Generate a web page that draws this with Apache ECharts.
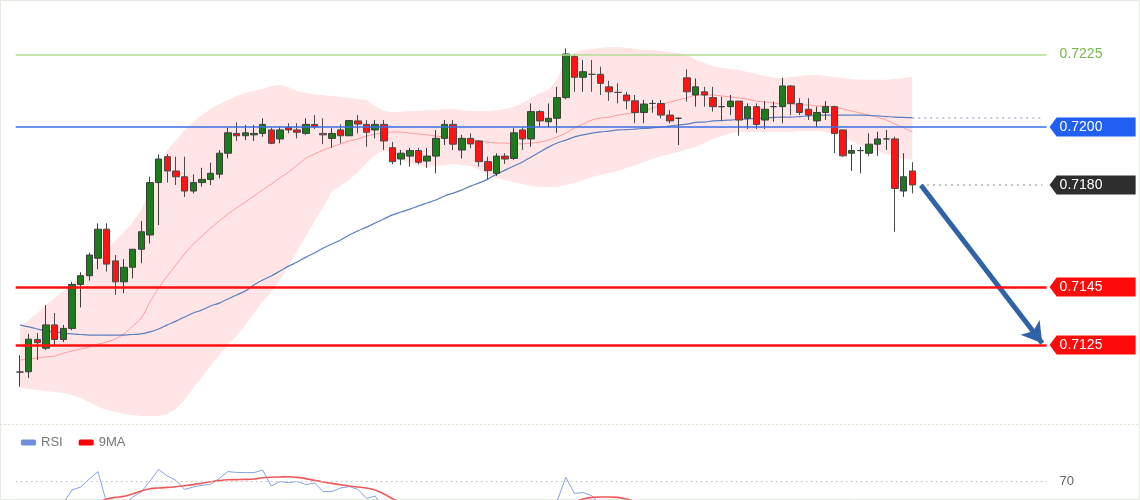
<!DOCTYPE html>
<html><head><meta charset="utf-8">
<script src="https://cdn.jsdelivr.net/npm/echarts@6/dist/echarts.min.js"></script>
<style>html,body{margin:0;padding:0;background:#fff}#c{width:1140px;height:500px}</style>
</head><body><div id="c"></div>
<script>
// ---- data ----
const totalSlots = 119; // 104 candles + empty space on the right
const categories = Array.from({length: totalSlots}, (_, i) => String(i));

const opens = [0.71158,0.71159,0.71270,0.71240,0.71320,0.71270,0.71308,0.71459,0.71489,0.71549,
0.71649,0.71540,0.71468,0.71518,0.71580,0.71629,0.71809,0.71898,0.71849,0.71829,
0.71780,0.71809,0.71820,0.71838,0.71910,0.71978,0.71970,0.71973,0.71978,0.71990,
0.71959,0.71998,0.71990,0.71978,0.72009,0.71978,0.71961,0.71990,0.71970,0.72021,
0.72009,0.71990,0.72009,0.71929,0.71890,0.71900,0.71919,0.71883,0.71900,0.71961,
0.72009,0.71921,0.71961,0.71952,0.71881,0.71841,0.71900,0.71892,0.71990,0.71959,
0.72053,0.72018,0.72030,0.72101,0.72242,0.72171,0.72181,0.72181,0.72138,0.72119,
0.72110,0.72090,0.72050,0.72081,0.72081,0.72041,0.72030,0.72169,0.72110,0.72121,
0.72101,0.72070,0.72070,0.72089,0.72030,0.72070,0.72024,0.72070,0.72070,0.72141,
0.72081,0.72061,0.72021,0.72050,0.72070,0.71990,0.71910,0.71919,0.71910,0.71941,
0.71959,0.71959,0.71780,0.71849];
const closes = [0.71158,0.71271,0.71259,0.71320,0.71270,0.71308,0.71459,0.71489,0.71560,0.71649,
0.71529,0.71468,0.71518,0.71580,0.71640,0.71809,0.71890,0.71849,0.71829,0.71780,
0.71809,0.71820,0.71841,0.71910,0.71980,0.71970,0.71980,0.71978,0.72009,0.71944,
0.71990,0.71990,0.71982,0.72009,0.72001,0.71973,0.71978,0.71970,0.72022,0.72010,
0.71982,0.72009,0.71952,0.71881,0.71910,0.71919,0.71879,0.71900,0.71961,0.72009,
0.71941,0.71961,0.71942,0.71881,0.71850,0.71900,0.71890,0.71980,0.71959,0.72053,
0.72021,0.72030,0.72101,0.72251,0.72171,0.72190,0.72181,0.72150,0.72121,0.72119,
0.72090,0.72050,0.72079,0.72081,0.72041,0.72021,0.72030,0.72121,0.72138,0.72110,
0.72070,0.72070,0.72089,0.72024,0.72070,0.72009,0.72061,0.72070,0.72141,0.72081,
0.72050,0.72041,0.72050,0.72070,0.71978,0.71901,0.71919,0.71919,0.71941,0.71959,
0.71959,0.71789,0.71829,0.71801];
const lows = [0.71108,0.71138,0.71199,0.71234,0.71251,0.71261,0.71302,0.71380,0.71472,0.71511,
0.71503,0.71423,0.71429,0.71480,0.71532,0.71600,0.71663,0.71809,0.71801,0.71760,
0.71772,0.71795,0.71801,0.71824,0.71892,0.71952,0.71955,0.71952,0.71967,0.71941,
0.71944,0.71978,0.71961,0.71973,0.71993,0.71941,0.71929,0.71944,0.71969,0.71978,
0.71932,0.71961,0.71921,0.71872,0.71869,0.71864,0.71872,0.71860,0.71841,0.71938,
0.71921,0.71892,0.71927,0.71864,0.71820,0.71832,0.71873,0.71887,0.71921,0.71932,
0.72001,0.71999,0.71980,0.72095,0.72121,0.72121,0.72121,0.72110,0.72090,0.72081,
0.72061,0.72013,0.72013,0.72049,0.72030,0.72013,0.71938,0.72087,0.72070,0.72070,
0.72053,0.72021,0.72041,0.71970,0.71993,0.71993,0.71993,0.72018,0.72013,0.72041,
0.72041,0.72024,0.72001,0.72024,0.71910,0.71898,0.71849,0.71841,0.71901,0.71901,
0.71921,0.71640,0.71760,0.71772];
const highs = [0.71216,0.71289,0.71292,0.71388,0.71361,0.71320,0.71468,0.71501,0.71568,0.71669,
0.71669,0.71560,0.71546,0.71581,0.71677,0.71829,0.71906,0.71907,0.71898,0.71898,
0.71837,0.71860,0.71877,0.71921,0.71998,0.72016,0.72007,0.72007,0.72030,0.71998,
0.72001,0.72013,0.72013,0.72030,0.72041,0.72030,0.71996,0.72009,0.72024,0.72041,
0.72024,0.72024,0.72024,0.71949,0.71921,0.71928,0.71928,0.71928,0.71990,0.72024,
0.72024,0.71973,0.71978,0.71955,0.71898,0.71910,0.71910,0.71996,0.71999,0.72081,
0.72058,0.72081,0.72138,0.72270,0.72251,0.72230,0.72230,0.72207,0.72159,0.72150,
0.72121,0.72110,0.72093,0.72093,0.72093,0.72058,0.72033,0.72198,0.72167,0.72138,
0.72138,0.72104,0.72110,0.72090,0.72081,0.72081,0.72089,0.72087,0.72169,0.72144,
0.72099,0.72099,0.72070,0.72089,0.72073,0.71990,0.71938,0.71932,0.71978,0.71984,
0.71990,0.71967,0.71910,0.71879];

const bbUpper = [0.71309,0.71337,0.71361,0.71388,0.71412,0.71436,0.71461,0.71485,0.71512,0.71546,
0.71577,0.71608,0.71639,0.71674,0.71715,0.71784,0.71869,0.71921,0.71955,0.71990,
0.72017,0.72041,0.72062,0.72079,0.72093,0.72107,0.72117,0.72124,0.72131,0.72141,
0.72144,0.72137,0.72124,0.72117,0.72113,0.72110,0.72107,0.72103,0.72100,0.72096,
0.72093,0.72072,0.72055,0.72052,0.72052,0.72055,0.72055,0.72058,0.72058,0.72062,
0.72062,0.72058,0.72055,0.72055,0.72055,0.72058,0.72062,0.72069,0.72083,0.72100,
0.72117,0.72127,0.72162,0.72241,0.72254,0.72265,0.72268,0.72272,0.72275,0.72275,
0.72272,0.72268,0.72265,0.72265,0.72261,0.72258,0.72254,0.72247,0.72230,0.72220,
0.72210,0.72203,0.72199,0.72196,0.72189,0.72182,0.72175,0.72168,0.72168,0.72172,
0.72175,0.72179,0.72179,0.72175,0.72172,0.72168,0.72165,0.72162,0.72162,0.72162,
0.72162,0.72165,0.72168,0.72172];
const bbMid = [0.71199,0.71203,0.71206,0.71210,0.71213,0.71223,0.71230,0.71237,0.71244,0.71254,
0.71261,0.71272,0.71289,0.71316,0.71344,0.71399,0.71447,0.71488,0.71526,0.71564,
0.71598,0.71625,0.71653,0.71677,0.71701,0.71722,0.71742,0.71763,0.71784,0.71804,
0.71825,0.71845,0.71869,0.71893,0.71907,0.71921,0.71931,0.71942,0.71952,0.71959,
0.71969,0.71976,0.71979,0.71983,0.71983,0.71979,0.71976,0.71973,0.71969,0.71966,
0.71962,0.71959,0.71955,0.71952,0.71948,0.71945,0.71945,0.71942,0.71942,0.71945,
0.71948,0.71955,0.71966,0.71979,0.71997,0.72010,0.72024,0.72031,0.72034,0.72041,
0.72045,0.72048,0.72055,0.72065,0.72076,0.72086,0.72093,0.72100,0.72110,0.72110,
0.72110,0.72107,0.72103,0.72100,0.72096,0.72089,0.72086,0.72083,0.72079,0.72079,
0.72076,0.72076,0.72072,0.72072,0.72069,0.72062,0.72055,0.72048,0.72041,0.72034,
0.72024,0.72010,0.71997,0.71983];
const bbLower = [0.71103,0.71100,0.71096,0.71093,0.71089,0.71086,0.71079,0.71069,0.71055,0.71038,
0.71028,0.71021,0.71014,0.71010,0.71007,0.71007,0.71007,0.71014,0.71031,0.71062,
0.71103,0.71141,0.71179,0.71217,0.71251,0.71282,0.71320,0.71361,0.71399,0.71433,
0.71474,0.71522,0.71574,0.71625,0.71677,0.71725,0.71780,0.71797,0.71818,0.71845,
0.71876,0.71904,0.71921,0.71904,0.71887,0.71876,0.71866,0.71863,0.71866,0.71869,
0.71873,0.71869,0.71866,0.71852,0.71835,0.71825,0.71818,0.71811,0.71804,0.71797,
0.71794,0.71794,0.71794,0.71801,0.71808,0.71818,0.71828,0.71835,0.71842,0.71849,
0.71859,0.71869,0.71880,0.71890,0.71900,0.71907,0.71914,0.71924,0.71931,0.71945,
0.71959,0.71969,0.71979,0.71983,0.71983,0.71983,0.71983,0.71983,0.71983,0.71983,
0.71986,0.71986,0.71986,0.71983,0.71976,0.71966,0.71952,0.71938,0.71928,0.71918,
0.71907,0.71897,0.71890,0.71887];
const maLong = [0.71320,0.71313,0.71306,0.71299,0.71296,0.71292,0.71289,0.71287,0.71285,0.71285,
0.71285,0.71285,0.71285,0.71287,0.71289,0.71296,0.71306,0.71320,0.71333,0.71347,
0.71361,0.71371,0.71385,0.71395,0.71409,0.71423,0.71436,0.71457,0.71474,0.71488,
0.71505,0.71522,0.71536,0.71553,0.71567,0.71584,0.71598,0.71612,0.71629,0.71643,
0.71656,0.71670,0.71684,0.71698,0.71708,0.71718,0.71729,0.71739,0.71749,0.71763,
0.71773,0.71784,0.71797,0.71808,0.71821,0.71838,0.71852,0.71866,0.71880,0.71897,
0.71914,0.71931,0.71945,0.71955,0.71966,0.71973,0.71979,0.71983,0.71986,0.71990,
0.71991,0.71993,0.71995,0.71997,0.72000,0.72003,0.72007,0.72010,0.72016,0.72017,
0.72021,0.72022,0.72024,0.72026,0.72028,0.72029,0.72031,0.72033,0.72034,0.72034,
0.72036,0.72038,0.72040,0.72041,0.72041,0.72041,0.72041,0.72041,0.72040,0.72038,
0.72036,0.72034,0.72033,0.72032];

const rsi = [52,57,56,58,57,59,65.5,67,71,74.7,
59,54,58,62,64.5,70,75.8,72.5,70.3,65.8,
67,67.8,68.4,71.3,74.7,74.3,74.2,74.2,75.5,67.5,
69.7,69.2,69.7,68.2,69,64.7,64.7,66.5,67.2,65.8,
61.3,62.5,56,48,50,51,48,50,55,59,
52,55,53,47,44,49,48,55,53,58,
56,57,60,71.8,63.8,64.2,62.7,58,55,54,
52,49,51,51,48,46,47,57,58,56,
53,53,55,49,52,48,51,52,58,53,
51,50,52,54,45,39,40,40,43,45,
45,33,38,36];
const rsiMa9 = [null,null,null,null,null,null,null,null,null,59,
61,61.8,62.3,63.5,65,66.1,66.5,66.8,67.1,67.6,
68.2,68.9,69.6,70.2,70.6,70.7,70.8,71,71.6,71.9,
72,72.1,71.8,71.2,70.3,69.5,68.8,68.1,67.5,67,
66.5,65.5,63.5,61.2,59,57,55,53.5,52.5,52,
52,52.5,52.5,52,51,51,51,51.5,52,53,
54,55,56,58,59.5,61,61.8,62,62,61.8,
61,59.5,57.5,55.5,53.5,52,51,51,52,52.5,
52.5,53,53.5,53.5,53,52,52,52,52.5,52.5,
52,52,52,52.5,51.5,49.5,48,46.5,45.5,45,
44,42,41,40];

const levelValues = [0.7225, 0.7200, 0.7180, 0.7145, 0.7125];
const levelLabels = ['0.7225', '0.7200', '0.7180', '0.7145', '0.7125'];
const rsiLevel = 70;
const arrowFrom = [104, 0.71800];
const arrowTo = [117.9, 0.71257];

// ---- styling ----
const levelLineStyles = [
  {color: '#b3dd95', width: 1.5, type: 'solid'},
  {color: '#3a6ee6', width: 1.5, type: 'solid'},
  null,
  {color: '#ff1010', width: 2.5, type: 'solid'},
  {color: '#ff1010', width: 2.5, type: 'solid'}
];
const tagColors = [null, '#1f5ff2', '#2e2e2e', '#ff0a0a', '#ff0a0a'];
const FONT = '"Liberation Sans", Arial, sans-serif';

const candleData = opens.map((o, i) => [o, closes[i], lows[i], highs[i]]);
const bandRange = bbUpper.map((u, i) => +(u - bbLower[i]).toFixed(5));
const last = opens.length - 1;

const levelMarks = [];
levelValues.forEach((v, k) => {
  if (levelLineStyles[k]) levelMarks.push({name: 'L' + k, yAxis: v, lineStyle: levelLineStyles[k]});
});

const gridLeft = 15.7, slotW = 8.663;
const gridW = slotW * totalSlots;

const chart = echarts.init(document.getElementById('c'), null, {renderer: 'canvas'});
chart.setOption({
  animation: false,
  backgroundColor: '#ffffff',
  grid: [
    {left: gridLeft, top: 10, width: gridW, height: 410},
    {left: gridLeft, top: 461, width: gridW, height: 39}
  ],
  legend: {
    data: ['RSI', '9MA'], left: 16, top: 431, itemWidth: 15, itemHeight: 6, itemGap: 16,
    icon: 'roundRect', textStyle: {color: '#777', fontSize: 13, fontFamily: FONT}
  },
  xAxis: [
    {type: 'category', data: categories, gridIndex: 0, show: false, boundaryGap: true},
    {type: 'category', data: categories, gridIndex: 1, show: false, boundaryGap: true}
  ],
  yAxis: [
    {type: 'value', gridIndex: 0, min: 0.709932, max: 0.724021, show: false, splitLine: {show: false}},
    {type: 'value', gridIndex: 1, min: 60.5, max: 80, show: false, splitLine: {show: false}}
  ],
  graphic: [
    {type: 'rect', shape: {x: 0.5, y: 0.5, width: 1139, height: 499}, style: {fill: 'none', stroke: '#e6ebe2', lineWidth: 1}, silent: true},
    {type: 'line', shape: {x1: 0, y1: 424.5, x2: 1140, y2: 424.5}, style: {stroke: '#d9e6cf', lineWidth: 1, lineDash: [2, 2]}, silent: true}
  ],
  series: [
    {name: 'bbBase', type: 'line', data: bbLower, stack: 'bb', symbol: 'none', silent: true,
     lineStyle: {opacity: 0}, z: 1},
    {name: 'bbBand', type: 'line', data: bandRange, stack: 'bb', symbol: 'none', silent: true,
     lineStyle: {opacity: 0}, areaStyle: {color: 'rgba(255,160,160,0.28)', opacity: 1}, z: 1},
    {name: 'mid', type: 'line', data: bbMid, symbol: 'none', silent: true, smooth: 0.3,
     lineStyle: {color: '#ff9c9c', width: 1}, z: 2,
     markLine: {silent: true, symbol: 'none', precision: 5, label: {show: false}, data: levelMarks}},
    {name: 'ma', type: 'line', data: maLong, symbol: 'none', silent: true, smooth: 0.3,
     lineStyle: {color: '#5b7fbf', width: 1.2}, z: 2,
     markLine: {silent: true, symbol: 'none', precision: 5, label: {show: false},
       data: [[{coord: [last, maLong[last]]}, {coord: [118.4, maLong[last]]}]],
       lineStyle: {color: '#aab4c8', type: [2, 4], width: 1.5}}},
    {name: 'price', type: 'candlestick', data: candleData, barWidth: 7, z: 3,
     itemStyle: {color: '#1c7c1c', color0: '#ff1414', borderColor: '#3d3d3d', borderColor0: '#4a4a4a', borderWidth: 1},
     markLine: {silent: true, precision: 5, label: {show: false}, z: 4,
       data: [
         [{coord: [last + 1, closes[last]], symbol: 'none', lineStyle: {color: '#b0b0b0', type: [2, 4], width: 1.5}},
          {coord: [118.4, closes[last]], symbol: 'none'}],
         [{coord: arrowFrom, symbol: 'none', lineStyle: {color: '#2f62a6', width: 5, type: 'solid'}},
          {coord: arrowTo, symbol: 'arrow', symbolSize: [18, 20]}]
       ]}},
    {name: 'tags', type: 'custom', clip: false, silent: true, z: 5,
     data: levelValues.map((v, k) => [0, v, k]),
     encode: {x: 0, y: 1},
     renderItem: function (params, api) {
       const k = api.value(2);
       const y = Math.round(api.coord([0, api.value(1)])[1]);
       const cs = params.coordSys;
       const xr = cs.x + cs.width;
       if (!tagColors[k]) {
         return {type: 'text', x: xr + 13, y: y,
           style: {text: levelLabels[k], fill: '#76b547', font: '14px ' + FONT, verticalAlign: 'middle', align: 'left'}};
       }
       return {type: 'group', children: [
         {type: 'polygon', shape: {points: [[xr + 3, y], [xr + 10, y - 9.5], [xr + 89, y - 9.5], [xr + 89, y + 9.5], [xr + 10, y + 9.5]]},
          style: {fill: tagColors[k]}},
         {type: 'text', x: xr + 13, y: y,
          style: {text: levelLabels[k], fill: '#ffffff', font: '14px ' + FONT, verticalAlign: 'middle', align: 'left'}}
       ]};
     }},
    {name: 'RSI', type: 'line', xAxisIndex: 1, yAxisIndex: 1, data: rsi, symbol: 'none',
     itemStyle: {color: '#6f8fdc'}, lineStyle: {color: '#86a2e4', width: 1},
     markLine: {silent: true, symbol: 'none', precision: 2, data: [{yAxis: rsiLevel}],
       lineStyle: {color: '#c8c8c8', type: [2, 3], width: 1},
       label: {show: true, position: 'end', distance: 13, formatter: String(rsiLevel), color: '#666', fontSize: 13, fontFamily: FONT}}},
    {name: '9MA', type: 'line', xAxisIndex: 1, yAxisIndex: 1, data: rsiMa9, symbol: 'none', smooth: 0.3,
     itemStyle: {color: '#ff0000'}, lineStyle: {color: '#f05a5a', width: 1.6}}
  ]
});
</script>
</body></html>
